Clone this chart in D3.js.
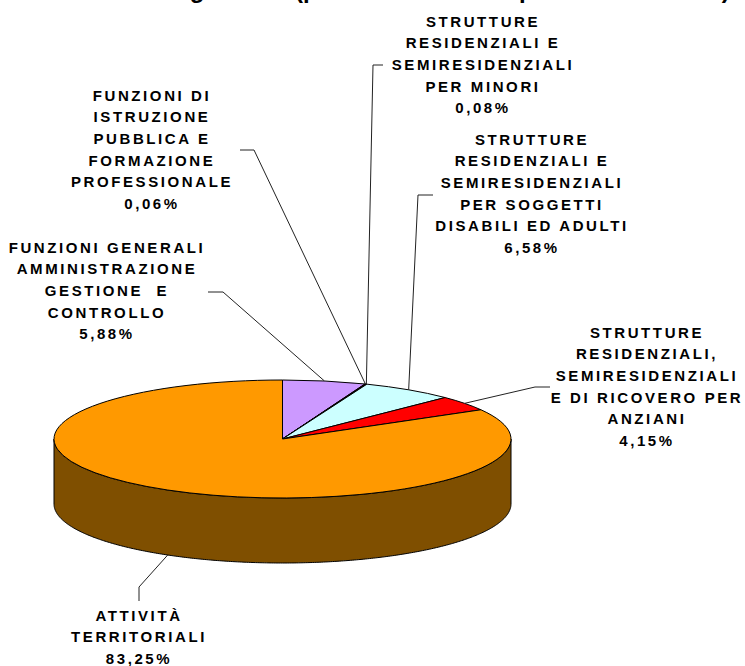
<!DOCTYPE html>
<html><head><meta charset="utf-8">
<script src="https://cdn.jsdelivr.net/npm/d3@7/dist/d3.min.js"></script>
<style>html,body{margin:0;padding:0;background:#fff;overflow:hidden}svg{display:block}</style>
</head><body><svg id="c" width="745" height="666"></svg>
<script>
const titleText = "Costi di gestione (percentuale sulla spesa totale annua)";
const categories = [
  ["FUNZIONI GENERALI","AMMINISTRAZIONE","GESTIONE  E","CONTROLLO"],
  ["FUNZIONI DI","ISTRUZIONE","PUBBLICA E","FORMAZIONE","PROFESSIONALE"],
  ["STRUTTURE","RESIDENZIALI E","SEMIRESIDENZIALI","PER MINORI"],
  ["STRUTTURE","RESIDENZIALI E","SEMIRESIDENZIALI","PER SOGGETTI","DISABILI ED ADULTI"],
  ["STRUTTURE","RESIDENZIALI,","SEMIRESIDENZIALI","E DI RICOVERO PER","ANZIANI"],
  ["ATTIVITÀ","TERRITORIALI"]
];
const values = [5.88, 0.06, 0.08, 6.58, 4.15, 83.25];
const valueLabels = ["5,88%","0,06%","0,08%","6,58%","4,15%","83,25%"];
const colors = ["#CC99FF","#660066","#800000","#CCFFFF","#FF0000","#FF9900"];
const sideColor = "#7F4F00";

// layout (not data)
const cx=282.5, cy=439, rx=228.5, ry=59, depth=65;
const labelCenterX=[107,152,483,532,647,139];
const labelFirstY=[247,95,21,139,332,615];
const lineStep=21.7;
const elbows=[
  [[208,292],[223,292]],
  [[240,150],[254,150]],
  [[383,65],[373,65]],
  [[433,195],[418,195]],
  [[550,387],[535,387]],
  [[139,601],[139,587]]
];

const svg=d3.select("#c");
const pie=d3.pie().sort(null).value(d=>d);
const arcs=pie(values);
const arc=d3.arc().innerRadius(0).outerRadius(rx);
const project=(a,dy=0)=>[cx+rx*Math.sin(a), cy-ry*Math.cos(a)+dy];

// side wall: visible lower half of the slices
const frontSlice=arcs[5];
const fromAngle=Math.max(frontSlice.startAngle,Math.PI/2), toAngle=Math.min(frontSlice.endAngle,3*Math.PI/2);
const angs=d3.range(fromAngle,toAngle,0.01).concat([toAngle]);
const wall=angs.map(a=>project(a)).concat(angs.slice().reverse().map(a=>project(a,depth)));
svg.append("path").attr("d",d3.line()(wall)+"Z")
  .attr("fill",sideColor).attr("stroke","#000").attr("stroke-width",1);

// top face
const topFace=svg.append("g").attr("transform",`translate(${cx},${cy}) scale(1,${ry/rx})`);
topFace.selectAll("path").data(arcs).join("path")
  .attr("d",arc).attr("fill",(d,i)=>colors[i])
  .attr("stroke","#000").attr("stroke-width",1).attr("vector-effect","non-scaling-stroke");

// leaders
const leader=d3.line();
arcs.forEach((d,i)=>{
  const mid=(d.startAngle+d.endAngle)/2;
  const anchor=project(mid, i===5?depth:0);
  svg.append("path").attr("d",leader([...elbows[i],anchor]))
    .attr("fill","none").attr("stroke","#222").attr("stroke-width",1);
});

// labels
categories.forEach((lines,i)=>{
  [...lines,valueLabels[i]].forEach((t,j)=>{
    svg.append("text").attr("x",labelCenterX[i]).attr("y",labelFirstY[i]+j*lineStep)
      .attr("text-anchor","middle").attr("dominant-baseline","central")
      .style("white-space","pre")
      .attr("font-family","'Liberation Sans',Arial,sans-serif").attr("font-weight","bold")
      .attr("font-size",15).attr("letter-spacing",2.6).attr("fill","#000").text(t);
  });
});

// title, cropped by the top edge as in the reference
svg.append("text").attr("x",95).attr("y",-2)
  .attr("font-family","'Liberation Sans',Arial,sans-serif").attr("font-weight","bold")
  .attr("font-size",24).attr("fill","#000").text(titleText);
</script></body></html>
